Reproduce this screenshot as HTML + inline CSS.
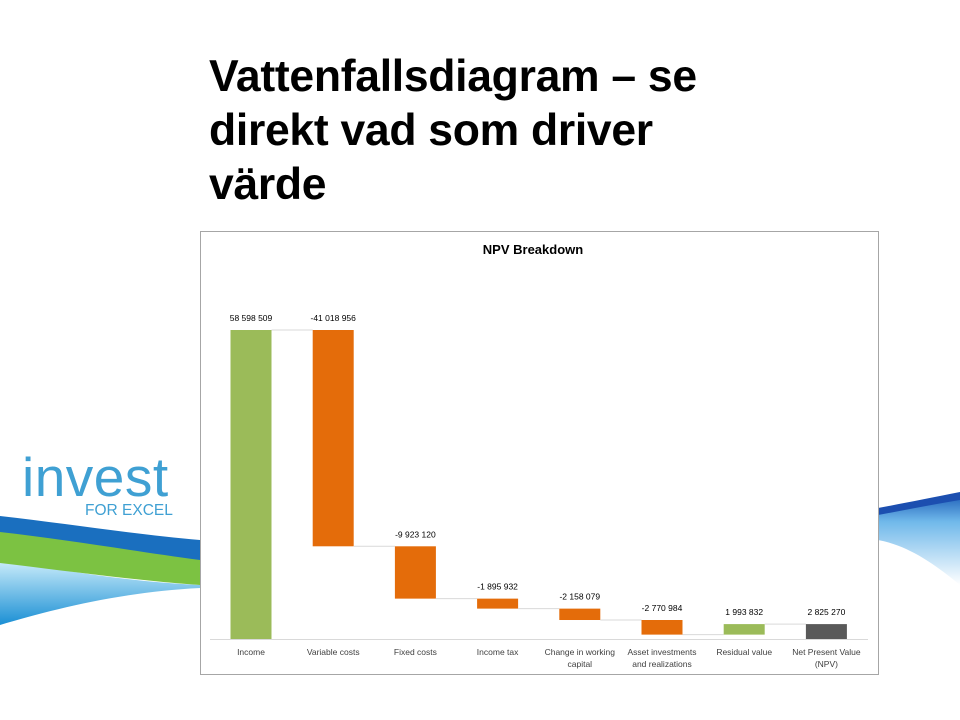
<!DOCTYPE html>
<html><head><meta charset="utf-8">
<style>
html,body{margin:0;padding:0;background:#fff;}
body{width:960px;height:720px;position:relative;overflow:hidden;font-family:"Liberation Sans",sans-serif;}
#title{position:absolute;left:209px;top:50px;font-size:44.5px;font-weight:bold;line-height:54px;color:#000;letter-spacing:-0.3px;margin:0;}
#logo{position:absolute;left:22px;top:450px;color:#3fa0d3;}
#logo .a{font-size:55px;line-height:55px;letter-spacing:0.5px;}
#logo .b{position:absolute;left:63px;top:52px;font-size:15.5px;white-space:nowrap;}
svg{position:absolute;left:0;top:0;}
</style></head>
<body>
<svg width="960" height="720">
  <defs>
    <linearGradient id="lb" x1="0" y1="0" x2="0" y2="1"><stop offset="0" stop-color="#cdeefb"/><stop offset="1" stop-color="#1a8fd4"/></linearGradient>
    <linearGradient id="rb" x1="0" y1="0" x2="0" y2="1"><stop offset="0" stop-color="#1e5fb8"/><stop offset="0.3" stop-color="#6fb8ea"/><stop offset="1" stop-color="#ffffff"/></linearGradient>
  </defs>
  <path d="M0,560 C60,570 130,582 200,585 L200,588 C120,592 50,610 0,625 Z" fill="url(#lb)"/>
  <path d="M0,530 C70,540 140,552 200,558 L200,585 C130,580 60,570 0,563 Z" fill="#7cc242"/>
  <path d="M0,516 C70,524 140,535 200,540 L200,560 C140,552 70,540 0,532 Z" fill="#1a6fbf"/>
  <path d="M878,510 C905,505 930,500 960,494 L960,585 C930,560 905,545 878,540 Z" fill="url(#rb)"/>
  <path d="M878,508 C905,503 930,498 960,492 L960,500 C930,505 905,510 878,515 Z" fill="#1c4fb0"/>
</svg>
<h1 id="title">Vattenfallsdiagram – se<br>direkt vad som driver<br>värde</h1>
<div id="logo"><div class="a">invest</div><div class="b">FOR EXCEL</div></div>
<svg id="chart" width="960" height="720"></svg>
<script>
const categories=["Income","Variable costs","Fixed costs","Income tax","Change in working|capital","Asset investments|and realizations","Residual value","Net Present Value|(NPV)"];
const values=[58598509,-41018956,-9923120,-1895932,-2158079,-2770984,1993832,2825270];
const labels=["58 598 509","-41 018 956","-9 923 120","-1 895 932","-2 158 079","-2 770 984","1 993 832","2 825 270"];
const isTotal=[false,false,false,false,false,false,false,true];
const NS="http://www.w3.org/2000/svg";
const svg=document.getElementById('chart');
function mk(t,a){const e=document.createElementNS(NS,t);for(const k in a)e.setAttribute(k,a[k]);svg.appendChild(e);return e;}
const baseY=639,pxPerUnit=309/58598509;
const y=v=>baseY-v*pxPerUnit;
const x0=251,step=82.2,bw=41;
const xc=i=>x0+i*step;
let f=mk('rect',{x:200.5,y:231.5,width:678,height:443,fill:'#fff',stroke:'#a6a6a6'});


let t=mk('text',{x:533,y:254,'text-anchor':'middle','font-size':13,'font-weight':'bold',fill:'#000'});
t.textContent='NPV Breakdown';


let ax=mk('line',{x1:210,x2:868,y1:baseY+0.5,y2:baseY+0.5,stroke:'#d9d9d9'});


let cum=0;
values.forEach((v,i)=>{
  let a,b,col;
  if(isTotal[i]){a=0;b=v;col='#595959';cum=v;}
  else{a=cum;b=cum+v;cum=b;col=(i===0||v>0)?'#9bbb59':'#e46c0a';}
  const top=Math.min(y(a),y(b)),h=Math.abs(y(a)-y(b));
  const r=mk('rect',{x:xc(i)-bw/2,y:top,width:bw,height:h,fill:col});
  
  
  if(i<values.length-1){
    const c=mk('line',{x1:xc(i)+bw/2,x2:xc(i+1)-bw/2,y1:y(cum),y2:y(cum),stroke:'#d9d9d9'});
    
    
  }
  const l=mk('text',{x:xc(i),y:top-9,'text-anchor':'middle','font-size':8.5,fill:'#000'});
  l.textContent=labels[i];
  
  
  categories[i].split('|').forEach((s,j)=>{
    const c=mk('text',{x:xc(i),y:655+j*12,'text-anchor':'middle','font-size':8.5,fill:'#404040'});
    c.textContent=s;
    
    
  });
});
</script>
</body></html>
